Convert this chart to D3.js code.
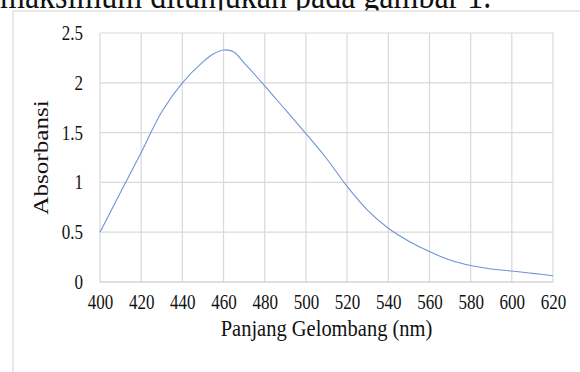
<!DOCTYPE html>
<html>
<head>
<meta charset="utf-8">
<script src="https://cdn.jsdelivr.net/npm/d3@7"></script>
<style>
  html, body { margin: 0; padding: 0; background: #fff; }
  svg { display: block; }
</style>
</head>
<body>
<div id="chart"></div>
<script>
// Wavelength (nm) and absorbance
var wavelengths = [400, 410, 420, 430, 440, 450, 455, 460, 465, 470, 480, 490, 500,
                   510, 520, 530, 540, 550, 560, 570, 580, 590, 600, 610, 620];
var absorbance  = [0.50, 0.90, 1.30, 1.71, 2.00, 2.21, 2.29, 2.33, 2.31, 2.20, 1.97, 1.73, 1.49,
                   1.24, 0.96, 0.72, 0.54, 0.41, 0.305, 0.22, 0.165, 0.13, 0.11, 0.087, 0.063];
var xTicks = [400, 420, 440, 460, 480, 500, 520, 540, 560, 580, 600, 620];
var yTicks = [0, 0.5, 1, 1.5, 2, 2.5];

var width = 580, height = 372;
var stretch = 1.17;   // source picture is slightly stretched vertically
var serif = "'Liberation Serif', 'Times New Roman', Times, serif";
var margin = {top: 33, right: 27, bottom: 90, left: 100};

var svg = d3.select("#chart").append("svg")
    .attr("width", width).attr("height", height)
    .attr("font-family", serif);

// Bit of the document text peeking out above the figure
svg.append("text")
    .attr("transform", "translate(0,7.5) scale(1," + stretch + ")")
    .attr("font-family", serif)
    .attr("font-size", 32)
    .attr("fill", "#111")
    .text("maksimum ditunjukan pada gambar 1.");

// Figure frame (covers the descenders of the text above)
svg.append("rect")
    .attr("x", 13).attr("y", 11).attr("width", width).attr("height", height)
    .attr("fill", "#fff").attr("stroke", "#d9d9d9").attr("stroke-width", 1.2);

var x = d3.scaleLinear().domain([400, 620]).range([margin.left, width - margin.right]);
var y = d3.scaleLinear().domain([0, 2.5]).range([height - margin.bottom, margin.top]);

var grid = svg.append("g").attr("class", "grid");
grid.selectAll(".vline").data(xTicks).enter().append("line")
    .attr("x1", function(d) { return x(d); }).attr("x2", function(d) { return x(d); })
    .attr("y1", y(0)).attr("y2", y(2.5))
    .attr("stroke", "#d9d9d9").attr("stroke-width", 1.2);
grid.selectAll(".hline").data(yTicks).enter().append("line")
    .attr("x1", x(400)).attr("x2", x(620))
    .attr("y1", function(d) { return y(d); }).attr("y2", function(d) { return y(d); })
    .attr("stroke", function(d) { return d === 0 ? "#bfbfbf" : "#d9d9d9"; })
    .attr("stroke-width", 1.2);

// Axes (labels only, Excel style)
var yAxis = svg.append("g")
    .attr("transform", "translate(" + margin.left + ",0)")
    .call(d3.axisLeft(y).tickValues(yTicks).tickSize(0).tickPadding(17)
        .tickFormat(function(d) { return String(d); }));
var xAxis = svg.append("g")
    .attr("transform", "translate(0," + y(0) + ")")
    .call(d3.axisBottom(x).tickValues(xTicks).tickSize(0)
        .tickFormat(function(d) { return String(d); }));

[yAxis, xAxis].forEach(function(ax) {
    ax.attr("font-family", serif).attr("font-size", 17);
    ax.select(".domain").remove();
    ax.selectAll("text").attr("fill", "#111");
});
yAxis.selectAll("text").attr("dy", "0.33em")
    .attr("transform", "scale(1," + stretch + ")");
xAxis.selectAll("text").attr("y", 20 / stretch).attr("dy", "0.33em")
    .attr("transform", "scale(1," + stretch + ")");

// Spectrum line
var line = d3.line()
    .x(function(d, i) { return x(wavelengths[i]); })
    .y(function(d) { return y(d); })
    .curve(d3.curveCatmullRom.alpha(0.5));
svg.append("path")
    .datum(absorbance)
    .attr("d", line)
    .attr("fill", "none")
    .attr("stroke", "#6f93d8")
    .attr("stroke-width", 1.1);

// Axis titles
svg.append("text")
    .attr("transform", "translate(" + ((x(400) + x(620)) / 2) + ",335.5) scale(1," + stretch + ")")
    .attr("text-anchor", "middle")
    .attr("font-family", serif)
    .attr("font-size", 20.5)
    .attr("fill", "#111")
    .text("Panjang Gelombang (nm)");
svg.append("text")
    .attr("transform", "translate(48," + ((y(0) + y(2.5)) / 2) + ") scale(1," + stretch + ") rotate(-90)")
    .attr("text-anchor", "middle")
    .attr("font-family", serif)
    .attr("font-size", 21.5)
    .attr("fill", "#111")
    .text("Absorbansi");
</script>
</body>
</html>
